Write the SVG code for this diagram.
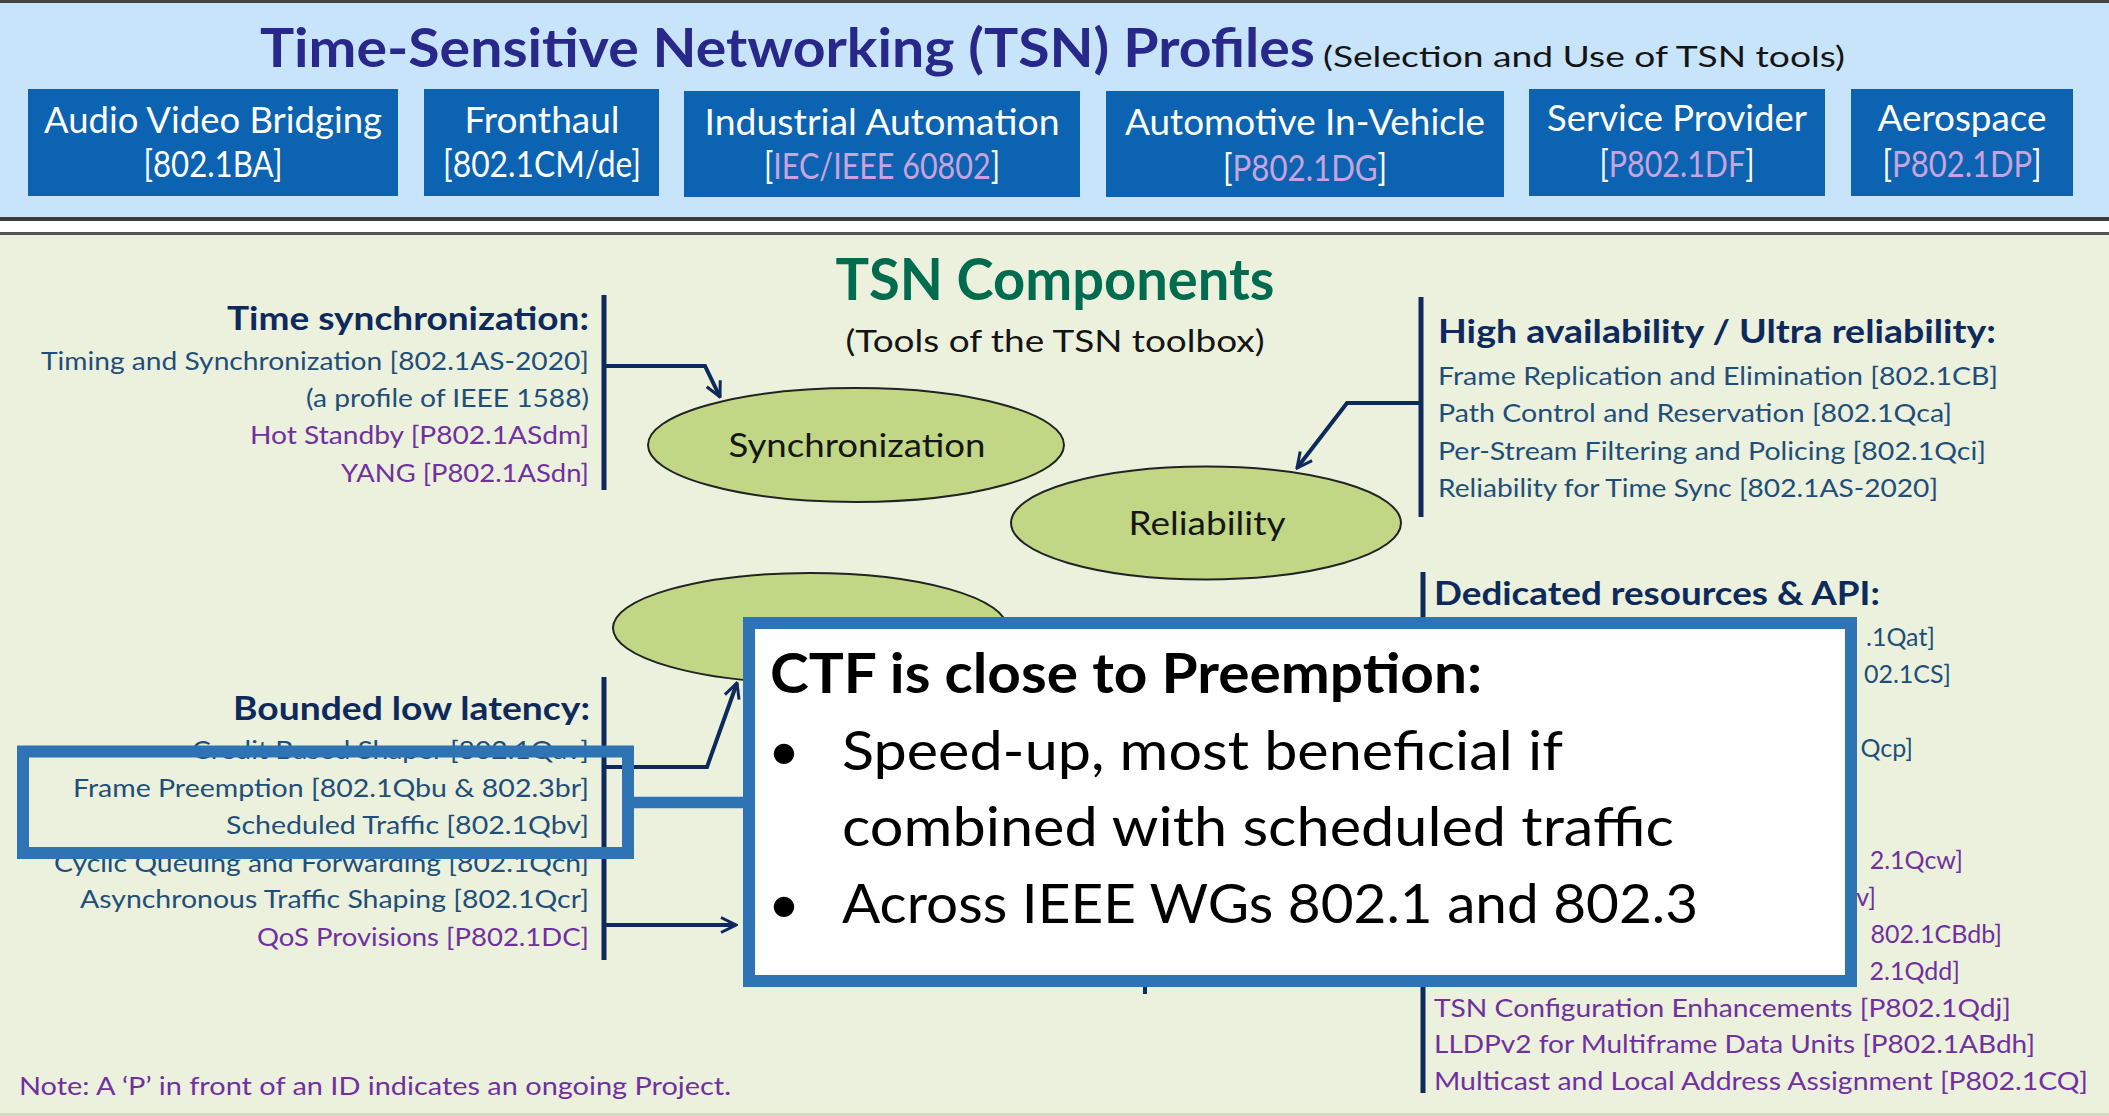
<svg xmlns="http://www.w3.org/2000/svg" width="2109" height="1116" viewBox="0 0 2109 1116">
<defs>
<style>
text{font-family:Lato,"Liberation Sans",sans-serif}
.ttl{font-size:54px;font-weight:bold;fill:#28288a}
.sub{font-size:28px;fill:#141414}
.pb{fill:#0b63b2}
.pt{font-size:36px;fill:#ffffff;text-anchor:middle}
.lav{fill:#c9a3dd}
.hdr{font-size:32px;font-weight:bold;fill:#0e2a5c}
.bd{font-size:25px;fill:#1f4e79}
.pu{fill:#7030a0}
.r{text-anchor:end}
.ell{fill:#c2d786;stroke:#222;stroke-width:2}
.el{font-size:33px;fill:#161616;text-anchor:middle}
.vl{stroke:#0e2a5c;stroke-width:5;fill:none}
.cn{stroke:#0e2a5c;stroke-width:4;fill:none;stroke-linejoin:miter}
.blu{stroke:#2e74b5;fill:none}
.co{font-size:55px;fill:#000}
</style>
<marker id="arr" viewBox="0 0 12 12" refX="11" refY="6" markerWidth="18" markerHeight="18" markerUnits="userSpaceOnUse" orient="auto">
<path d="M1,1 L11,6 L1,11" fill="none" stroke="#0e2a5c" stroke-width="2"/>
</marker>
</defs>

<!-- backgrounds -->
<rect x="0" y="0" width="2109" height="1116" fill="#ffffff"/>
<rect x="0" y="0" width="2109" height="3" fill="#444"/>
<rect x="0" y="3" width="2109" height="214" fill="#c8e4fa"/>
<rect x="0" y="217" width="2109" height="4" fill="#3c3c3c"/>
<rect x="0" y="232" width="2109" height="3" fill="#555"/>
<rect x="0" y="235" width="2109" height="878" fill="#ebf1dc"/>
<rect x="0" y="1113" width="2109" height="3" fill="#d3d8c3"/>

<g id="profiles-title">
<text class="ttl" x="260" y="67" textLength="1055" lengthAdjust="spacingAndGlyphs">Time-Sensitive Networking (TSN) Profiles</text>
<text class="sub" x="1323" y="67" textLength="522" lengthAdjust="spacingAndGlyphs">(Selection and Use of TSN tools)</text>
</g>

<g id="profile-avb">
<rect class="pb" x="28" y="89" width="370" height="107"/>
<text class="pt" x="213" y="133" textLength="338" lengthAdjust="spacingAndGlyphs">Audio Video Bridging</text>
<text class="pt" x="213" y="177" textLength="139" lengthAdjust="spacingAndGlyphs">[802.1BA]</text>
</g>
<g id="profile-fronthaul">
<rect class="pb" x="424" y="89" width="235" height="107"/>
<text class="pt" x="542" y="133" textLength="155" lengthAdjust="spacingAndGlyphs">Fronthaul</text>
<text class="pt" x="542" y="177" textLength="198" lengthAdjust="spacingAndGlyphs">[802.1CM/de]</text>
</g>
<g id="profile-industrial">
<rect class="pb" x="684" y="91" width="396" height="106"/>
<text class="pt" x="882" y="135" textLength="355" lengthAdjust="spacingAndGlyphs">Industrial Automation</text>
<text class="pt" x="882" y="179" textLength="236" lengthAdjust="spacingAndGlyphs">[<tspan class="lav">IEC/IEEE 60802</tspan>]</text>
</g>
<g id="profile-automotive">
<rect class="pb" x="1106" y="91" width="398" height="106"/>
<text class="pt" x="1305" y="135" textLength="360" lengthAdjust="spacingAndGlyphs">Automotive In-Vehicle</text>
<text class="pt" x="1305" y="181" textLength="164" lengthAdjust="spacingAndGlyphs">[<tspan class="lav">P802.1DG</tspan>]</text>
</g>
<g id="profile-service">
<rect class="pb" x="1529" y="89" width="296" height="107"/>
<text class="pt" x="1677" y="131" textLength="260" lengthAdjust="spacingAndGlyphs">Service Provider</text>
<text class="pt" x="1677" y="177" textLength="155" lengthAdjust="spacingAndGlyphs">[<tspan class="lav">P802.1DF</tspan>]</text>
</g>
<g id="profile-aerospace">
<rect class="pb" x="1851" y="89" width="222" height="107"/>
<text class="pt" x="1962" y="131" textLength="169" lengthAdjust="spacingAndGlyphs">Aerospace</text>
<text class="pt" x="1962" y="177" textLength="159" lengthAdjust="spacingAndGlyphs">[<tspan class="lav">P802.1DP</tspan>]</text>
</g>

<g id="components-title">
<text x="1055" y="300" text-anchor="middle" font-size="58" font-weight="bold" fill="#006c4f" textLength="439" lengthAdjust="spacingAndGlyphs">TSN Components</text>
<text x="1055" y="352" text-anchor="middle" font-size="30" fill="#141414" textLength="419" lengthAdjust="spacingAndGlyphs">(Tools of the TSN toolbox)</text>
</g>

<g id="node-synchronization">
<ellipse class="ell" cx="856" cy="445" rx="208" ry="57"/>
<text class="el" x="857" y="457" textLength="257" lengthAdjust="spacingAndGlyphs">Synchronization</text>
</g>
<g id="node-reliability">
<ellipse class="ell" cx="1206" cy="523" rx="195" ry="56.5"/>
<text class="el" x="1207" y="535" textLength="157" lengthAdjust="spacingAndGlyphs">Reliability</text>
</g>
<g id="node-latency">
<ellipse class="ell" cx="810" cy="628" rx="197" ry="55"/>
</g>

<g id="group-time-sync">
<text class="hdr r" x="589" y="330" textLength="362" lengthAdjust="spacingAndGlyphs">Time synchronization:</text>
<text class="bd r" x="589" y="370" textLength="548" lengthAdjust="spacingAndGlyphs">Timing and Synchronization [802.1AS-2020]</text>
<text class="bd r" x="589" y="407" textLength="283" lengthAdjust="spacingAndGlyphs">(a profile of IEEE 1588)</text>
<text class="bd r pu" x="589" y="444" textLength="339" lengthAdjust="spacingAndGlyphs">Hot Standby [P802.1ASdm]</text>
<text class="bd r pu" x="589" y="482" textLength="248" lengthAdjust="spacingAndGlyphs">YANG [P802.1ASdn]</text>
<line class="vl" x1="604" y1="295" x2="604" y2="490"/>
</g>

<g id="group-reliability">
<text class="hdr" x="1438" y="343" textLength="558" lengthAdjust="spacingAndGlyphs">High availability / Ultra reliability:</text>
<text class="bd" x="1438" y="385" textLength="560" lengthAdjust="spacingAndGlyphs">Frame Replication and Elimination [802.1CB]</text>
<text class="bd" x="1438" y="422" textLength="514" lengthAdjust="spacingAndGlyphs">Path Control and Reservation [802.1Qca]</text>
<text class="bd" x="1438" y="460" textLength="548" lengthAdjust="spacingAndGlyphs">Per-Stream Filtering and Policing [802.1Qci]</text>
<text class="bd" x="1438" y="497" textLength="500" lengthAdjust="spacingAndGlyphs">Reliability for Time Sync [802.1AS-2020]</text>
<line class="vl" x1="1421" y1="297" x2="1421" y2="517"/>
</g>

<g id="group-latency">
<text class="hdr r" x="590" y="720" textLength="357" lengthAdjust="spacingAndGlyphs">Bounded low latency:</text>
<text class="bd r" x="589" y="759" textLength="397" lengthAdjust="spacingAndGlyphs">Credit Based Shaper [802.1Qav]</text>
<text class="bd r" x="589" y="797" textLength="516" lengthAdjust="spacingAndGlyphs">Frame Preemption [802.1Qbu &amp; 802.3br]</text>
<text class="bd r" x="589" y="834" textLength="363" lengthAdjust="spacingAndGlyphs">Scheduled Traffic [802.1Qbv]</text>
<text class="bd r" x="589" y="872" textLength="535" lengthAdjust="spacingAndGlyphs">Cyclic Queuing and Forwarding [802.1Qch]</text>
<text class="bd r" x="589" y="908" textLength="509" lengthAdjust="spacingAndGlyphs">Asynchronous Traffic Shaping [802.1Qcr]</text>
<text class="bd r pu" x="589" y="946" textLength="332" lengthAdjust="spacingAndGlyphs">QoS Provisions [P802.1DC]</text>
<line class="vl" x1="604" y1="677" x2="604" y2="960"/>
</g>

<g id="group-resources">
<text class="hdr" x="1434" y="605" textLength="446" lengthAdjust="spacingAndGlyphs">Dedicated resources &amp; API:</text>
<text class="bd r" x="1935" y="646">.1Qat]</text>
<text class="bd r" x="1951" y="683">02.1CS]</text>
<text class="bd r" x="1913" y="757">Qcp]</text>
<text class="bd r pu" x="1963" y="869">2.1Qcw]</text>
<text class="bd r pu" x="1876" y="906">v]</text>
<text class="bd r pu" x="2002" y="943">802.1CBdb]</text>
<text class="bd r pu" x="1960" y="980">2.1Qdd]</text>
<text class="bd pu" x="1434" y="1017" textLength="577" lengthAdjust="spacingAndGlyphs">TSN Configuration Enhancements [P802.1Qdj]</text>
<text class="bd pu" x="1434" y="1053" textLength="601" lengthAdjust="spacingAndGlyphs">LLDPv2 for Multiframe Data Units [P802.1ABdh]</text>
<text class="bd pu" x="1434" y="1090" textLength="654" lengthAdjust="spacingAndGlyphs">Multicast and Local Address Assignment [P802.1CQ]</text>
<line class="vl" x1="1423" y1="572" x2="1423" y2="1093"/>
</g>

<g id="note">
<text class="bd pu" x="19" y="1095" textLength="712" lengthAdjust="spacingAndGlyphs">Note: A ‘P’ in front of an ID indicates an ongoing Project.</text>
</g>

<g id="connectors">
<path class="cn" d="M604,366 H705 L720,397" marker-end="url(#arr)"/>
<path class="cn" d="M1421,403 H1347 L1297,468" marker-end="url(#arr)"/>
<path class="cn" d="M604,767 H707 L737,683" marker-end="url(#arr)"/>
<path class="cn" d="M604,925 H736" marker-end="url(#arr)"/>
<path class="cn" d="M1145,986 V994"/>
<rect class="blu" x="23" y="751.5" width="605" height="101.5" stroke-width="12"/>
<path class="blu" d="M628,802.5 H749" stroke-width="11.5"/>
</g>

<g id="callout">
<rect x="749" y="623" width="1102" height="358" fill="#ffffff" stroke="#2e74b5" stroke-width="12"/>
<text class="co" x="770" y="693" font-weight="bold" textLength="712" lengthAdjust="spacingAndGlyphs">CTF is close to Preemption:</text>
<text class="co" x="768" y="770">•</text>
<text class="co" x="842" y="770" textLength="721" lengthAdjust="spacingAndGlyphs">Speed-up, most beneficial if</text>
<text class="co" x="842" y="846" textLength="832" lengthAdjust="spacingAndGlyphs">combined with scheduled traffic</text>
<text class="co" x="768" y="923">•</text>
<text class="co" x="842" y="923" textLength="856" lengthAdjust="spacingAndGlyphs">Across IEEE WGs 802.1 and 802.3</text>
</g>
</svg>
